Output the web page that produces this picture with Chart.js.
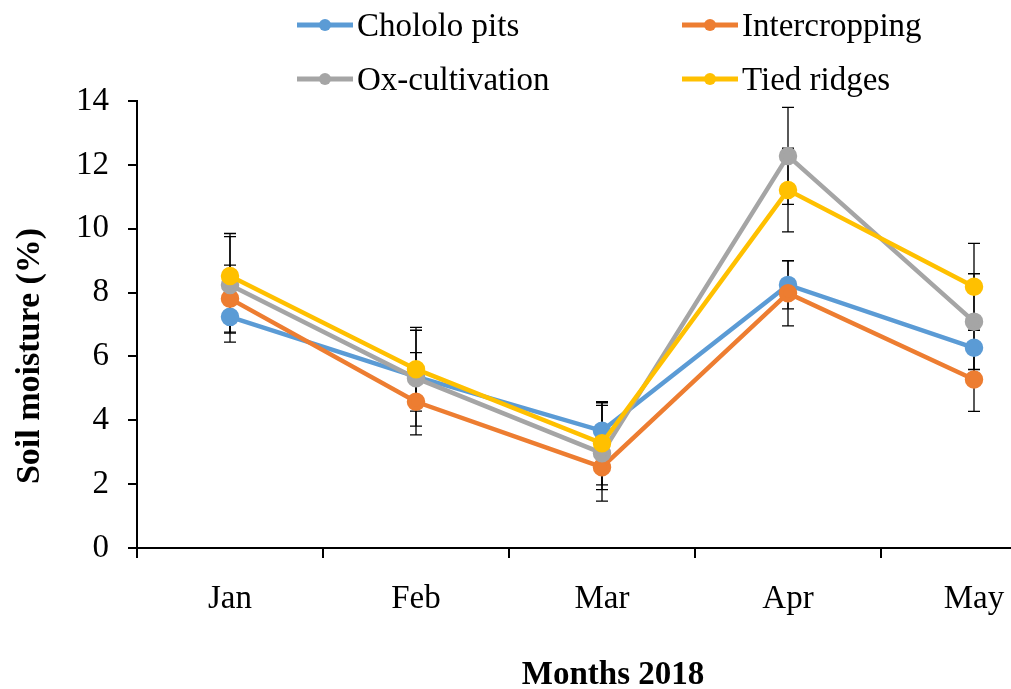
<!DOCTYPE html>
<html>
<head>
<meta charset="utf-8">
<script src="https://cdn.jsdelivr.net/npm/chart.js@4"></script>
<style>
  html, body { margin: 0; padding: 0; background: #fff; overflow: hidden; }
  #wrap { width: 1080px; height: 689px; }
</style>
</head>
<body>
<div id="wrap"><canvas id="chart" width="1080" height="689"></canvas></div>
<script>
// values
const months = ['Jan', 'Feb', 'Mar', 'Apr', 'May'];
const seriesNames = ['Chololo pits', 'Intercropping', 'Ox-cultivation', 'Tied ridges'];
const chololo = [7.24, 5.37, 3.67, 8.24, 6.27];
const intercropping = [7.81, 4.58, 2.53, 7.98, 5.28];
const oxCultivation = [8.24, 5.32, 2.97, 12.28, 7.09];
const tiedRidges = [8.52, 5.60, 3.28, 11.21, 8.18];
// error bar half-lengths
const chololoErr = [0.79, 0.75, 0.88, 0.75, 0.80];
const intercroppingErr = [1.05, 1.04, 0.70, 1.02, 1.00];
const oxCultivationErr = [1.51, 1.50, 1.50, 1.52, 1.50];
const tiedRidgesErr = [1.33, 1.31, 1.30, 1.31, 1.36];
const yTicks = [0, 2, 4, 6, 8, 10, 12, 14];

const colors = ['#5B9BD5', '#ED7D31', '#A5A5A5', '#FFC000'];
const values = [chololo, intercropping, oxCultivation, tiedRidges];
const errors = [chololoErr, intercroppingErr, oxCultivationErr, tiedRidgesErr];

const serif = '"Liberation Serif", "Times New Roman", serif';

const errorBars = {
    id: 'errorBars',
    beforeDatasetsDraw(chart) {
        const ctx = chart.ctx;
        const x = chart.scales.x, y = chart.scales.y;
        ctx.save();
        ctx.strokeStyle = '#000';
        ctx.lineWidth = 1.3;
        chart.data.datasets.forEach(ds => {
            ds.data.forEach((v, i) => {
                const e = ds.err[i];
                const px = x.getPixelForValue(i);
                const top = y.getPixelForValue(v + e);
                const bot = y.getPixelForValue(v - e);
                ctx.beginPath();
                ctx.moveTo(px, top); ctx.lineTo(px, bot);
                ctx.moveTo(px - 6, top); ctx.lineTo(px + 6, top);
                ctx.moveTo(px - 6, bot); ctx.lineTo(px + 6, bot);
                ctx.stroke();
            });
        });
        ctx.restore();
    }
};

const extras = {
    id: 'extras',
    afterDraw(chart) {
        const ctx = chart.ctx;
        ctx.save();
        // legend, 2 x 2
        const cols = [297, 682];
        const rows = [25, 79];
        ctx.font = '33px ' + serif;
        ctx.textBaseline = 'middle';
        seriesNames.forEach((name, i) => {
            const lx = cols[i % 2], ly = rows[Math.floor(i / 2)];
            ctx.strokeStyle = colors[i];
            ctx.lineWidth = 5;
            ctx.beginPath();
            ctx.moveTo(lx, ly); ctx.lineTo(lx + 56, ly);
            ctx.stroke();
            ctx.fillStyle = colors[i];
            ctx.beginPath();
            ctx.arc(lx + 28, ly, 6, 0, Math.PI * 2);
            ctx.fill();
            ctx.fillStyle = '#000';
            ctx.textAlign = 'left';
            ctx.fillText(name, lx + 60, ly + 2);
        });
        // axis titles
        ctx.font = 'bold 34px ' + serif;
        ctx.textAlign = 'center';
        ctx.textBaseline = 'middle';
        ctx.save();
        ctx.translate(30, 356);
        ctx.rotate(-Math.PI / 2);
        ctx.fillText('Soil moisture (%)', 0, 0);
        ctx.restore();
        ctx.font = 'bold 33px ' + serif;
        ctx.textBaseline = 'alphabetic';
        ctx.fillText('Months 2018', 613, 684);
        ctx.restore();
    }
};

new Chart(document.getElementById('chart'), {
    type: 'line',
    data: {
        labels: months,
        datasets: seriesNames.map((name, i) => ({
            label: name,
            data: values[i],
            err: errors[i],
            borderColor: colors[i],
            backgroundColor: colors[i],
            pointBackgroundColor: colors[i],
            pointBorderColor: colors[i],
            borderWidth: 4.5,
            pointRadius: 7,
            pointHoverRadius: 7,
            tension: 0,
            order: 3 - i
        }))
    },
    options: {
        responsive: false,
        animation: false,
        devicePixelRatio: 1,
        layout: { padding: { top: 101, left: 0, right: 13, bottom: 0 } },
        plugins: {
            legend: { display: false },
            tooltip: { enabled: false }
        },
        scales: {
            x: {
                type: 'category',
                offset: true,
                grid: { offset: true, drawOnChartArea: false, drawTicks: true, tickLength: 10, color: '#000', lineWidth: 2 },
                border: { color: '#000', width: 2 },
                ticks: { font: { family: serif, size: 33 }, color: '#000', padding: 22, maxRotation: 0 },
                afterFit(s) { s.height = 141; }
            },
            y: {
                min: 0,
                max: 14,
                afterBuildTicks(s) { s.ticks = yTicks.map(v => ({ value: v })); },
                grid: { drawOnChartArea: false, drawTicks: true, tickLength: 9, color: '#000', lineWidth: 2 },
                border: { color: '#000', width: 2 },
                ticks: { font: { family: serif, size: 33 }, color: '#000', padding: 19 },
                afterFit(s) { s.width = 137; }
            }
        }
    },
    plugins: [errorBars, extras]
});
</script>
</body>
</html>
